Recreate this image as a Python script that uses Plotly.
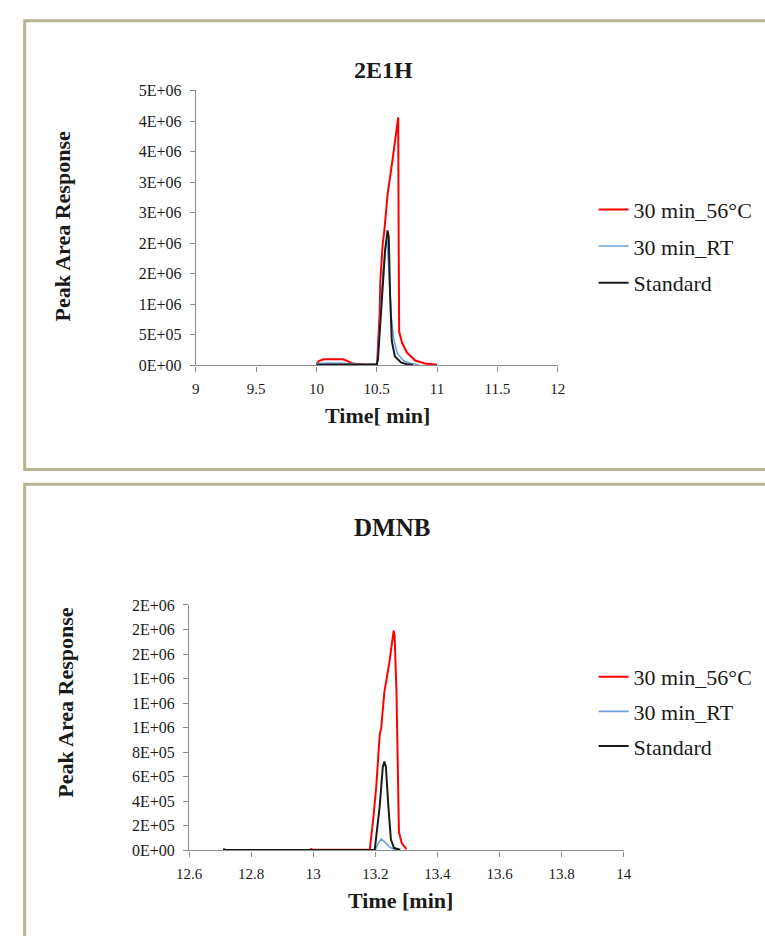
import plotly.graph_objects as go

# ---------------- data: 2E1H ----------------
t1_hot = [10.00, 10.02, 10.06, 10.14, 10.22, 10.26, 10.30, 10.40, 10.50, 10.505, 10.515, 10.525,
          10.53, 10.55, 10.563, 10.59, 10.63, 10.657, 10.678, 10.682, 10.686, 10.71, 10.75, 10.82, 10.90, 11.00]
y1_hot = [0.02e6, 0.07e6, 0.10e6, 0.10e6, 0.10e6, 0.07e6, 0.03e6, 0.01e6, 0.01e6, 0.10e6, 0.45e6, 0.90e6,
          1.40e6, 2.00e6, 2.20e6, 2.80e6, 3.35e6, 3.78e6, 4.06e6, 2.00e6, 0.55e6, 0.37e6, 0.21e6, 0.08e6, 0.03e6, 0.01e6]

t1_rt = [10.00, 10.10, 10.30, 10.40, 10.50, 10.51, 10.53, 10.55, 10.57, 10.585, 10.60, 10.62,
         10.64, 10.67, 10.72, 10.78, 10.85]
y1_rt = [0.03e6, 0.04e6, 0.03e6, 0.01e6, 0.02e6, 0.15e6, 0.80e6, 1.50e6, 1.90e6, 2.05e6, 1.60e6, 0.80e6,
         0.45e6, 0.20e6, 0.08e6, 0.03e6, 0.01e6]

t1_std = [10.00, 10.30, 10.50, 10.51, 10.53, 10.55, 10.57, 10.59, 10.60, 10.61, 10.625, 10.65,
          10.70, 10.75, 10.80]
y1_std = [0.01e6, 0.01e6, 0.02e6, 0.10e6, 0.70e6, 1.40e6, 1.90e6, 2.21e6, 2.10e6, 1.20e6, 0.40e6, 0.15e6,
          0.05e6, 0.02e6, 0.01e6]

# ---------------- data: DMNB ----------------
t2_hot = [12.99, 13.00, 13.10, 13.182, 13.193, 13.203, 13.214, 13.219, 13.229, 13.245, 13.259,
          13.262, 13.268, 13.272, 13.276, 13.285, 13.30]
y2_hot = [0.015e6, 0.005e6, 0.005e6, 0.005e6, 0.25e6, 0.52e6, 0.94e6, 1.00e6, 1.29e6, 1.53e6, 1.79e6,
          1.75e6, 1.30e6, 0.60e6, 0.15e6, 0.06e6, 0.01e6]

t2_rt = [12.71, 12.72, 13.00, 13.20, 13.21, 13.219, 13.23, 13.245, 13.26, 13.27]
y2_rt = [0.01e6, 0.003e6, 0.003e6, 0.005e6, 0.06e6, 0.093e6, 0.07e6, 0.03e6, 0.01e6, 0.005e6]

t2_std = [12.71, 12.72, 13.00, 13.198, 13.214, 13.224, 13.229, 13.234, 13.242, 13.25, 13.26, 13.28]
y2_std = [0.01e6, 0.003e6, 0.003e6, 0.003e6, 0.36e6, 0.68e6, 0.725e6, 0.68e6, 0.36e6, 0.09e6, 0.02e6, 0.005e6]

series_names = ["30 min_56°C", "30 min_RT", "Standard"]
series_colors = ["#FF0000", "#6FA0D8", "#1A1A1A"]

x1_ticks = [9, 9.5, 10, 10.5, 11, 11.5, 12]
x1_ticktext = ["9", "9.5", "10", "10.5", "11", "11.5", "12"]
y1_ticks = [0, 0.5e6, 1.0e6, 1.5e6, 2.0e6, 2.5e6, 3.0e6, 3.5e6, 4.0e6, 4.5e6]
y1_ticktext = ["0E+00", "5E+05", "1E+06", "2E+06", "2E+06", "3E+06", "3E+06", "4E+06", "4E+06", "5E+06"]

x2_ticks = [12.6, 12.8, 13.0, 13.2, 13.4, 13.6, 13.8, 14.0]
x2_ticktext = ["12.6", "12.8", "13", "13.2", "13.4", "13.6", "13.8", "14"]
y2_ticks = [0, 0.2e6, 0.4e6, 0.6e6, 0.8e6, 1.0e6, 1.2e6, 1.4e6, 1.6e6, 1.8e6, 2.0e6]
y2_ticktext = ["0E+00", "2E+05", "4E+05", "6E+05", "8E+05", "1E+06", "1E+06", "1E+06", "2E+06", "2E+06", "2E+06"]

FONT = "Liberation Serif, Times New Roman, serif"
TXT = "#1A1A1A"
W, H = 765, 936

fig = go.Figure()

top_data = [(t1_hot, y1_hot), (t1_rt, y1_rt), (t1_std, y1_std)]
bot_data = [(t2_hot, y2_hot), (t2_rt, y2_rt), (t2_std, y2_std)]

for i, (tx, ty) in enumerate(top_data):
    fig.add_trace(go.Scatter(x=tx, y=ty, mode="lines", name=series_names[i],
                             line=dict(color=series_colors[i], width=2 if i != 1 else 1.6),
                             xaxis="x", yaxis="y", legend="legend", legendgroup="a%d" % i))
for i, (tx, ty) in enumerate(bot_data):
    fig.add_trace(go.Scatter(x=tx, y=ty, mode="lines", name=series_names[i],
                             line=dict(color=series_colors[i], width=2 if i != 1 else 1.6),
                             xaxis="x2", yaxis="y2", legend="legend2", legendgroup="b%d" % i))


def px(x):
    return x / W


def py(y):
    return 1 - y / H


base_axis = dict(showline=True, linecolor="#8C8C8C", linewidth=1.3, showgrid=False, zeroline=False,
                 ticks="outside", ticklen=5, tickcolor="#8C8C8C", tickwidth=1.3, fixedrange=True)
x_axis_style = dict(base_axis, tickfont=dict(family=FONT, size=15, color=TXT), ticklabelstandoff=4)
y_axis_style = dict(base_axis, tickfont=dict(family=FONT, size=16, color=TXT), ticklabelstandoff=5)

fig.update_layout(
    width=W, height=H, margin=dict(l=0, r=0, t=0, b=0),
    paper_bgcolor="white", plot_bgcolor="white",
    xaxis=dict(domain=[px(188), px(560)], range=[9, 12], tickvals=x1_ticks, ticktext=x1_ticktext,
               anchor="y", **x_axis_style),
    yaxis=dict(domain=[py(364), py(84)], range=[0, 4.5e6], tickvals=y1_ticks, ticktext=y1_ticktext,
               anchor="x", **y_axis_style),
    xaxis2=dict(domain=[px(181), px(628)], range=[12.6, 14.0], tickvals=x2_ticks, ticktext=x2_ticktext,
                anchor="y2", **x_axis_style),
    yaxis2=dict(domain=[py(858), py(608)], range=[0, 2.0e6], tickvals=y2_ticks, ticktext=y2_ticktext,
                anchor="x2", **y_axis_style),
    legend=dict(x=px(597), y=py(184), xanchor="left", yanchor="top", bgcolor="rgba(0,0,0,0)",
                font=dict(family=FONT, size=22, color=TXT), tracegroupgap=5, borderwidth=0),
    legend2=dict(x=px(597), y=py(660), xanchor="left", yanchor="top", bgcolor="rgba(0,0,0,0)",
                 font=dict(family=FONT, size=22, color=TXT), tracegroupgap=3, borderwidth=0),
    showlegend=True,
)


def label(text, x, y, size, angle=0):
    fig.add_annotation(text=text, x=px(x), y=py(y), xref="paper", yref="paper",
                       xanchor="center", yanchor="middle", textangle=angle,
                       showarrow=False, font=dict(family=FONT, size=size, color=TXT))


# chart titles
label("<b>2E1H</b>", 381, 63, 24)
label("<b>DMNB</b>", 390, 529, 25)
# axis titles
label("<b>Time[ min]</b>", 375, 415, 22)
label("<b>Time [min]</b>", 398, 909, 22)
label("<b>Peak Area Response</b>", 51, 223, 22, -90)
label("<b>Peak Area Response</b>", 54, 708, 22, -90)

# panel frames
frame = dict(type="rect", xref="paper", yref="paper", line=dict(color="#B7B393", width=3),
             fillcolor="rgba(0,0,0,0)", layer="below")
fig.add_shape(x0=px(12), x1=px(790), y0=py(470), y1=py(13), **frame)
fig.add_shape(x0=px(12), x1=px(790), y0=py(960), y1=py(485), **frame)

fig.write_html("out.html")
